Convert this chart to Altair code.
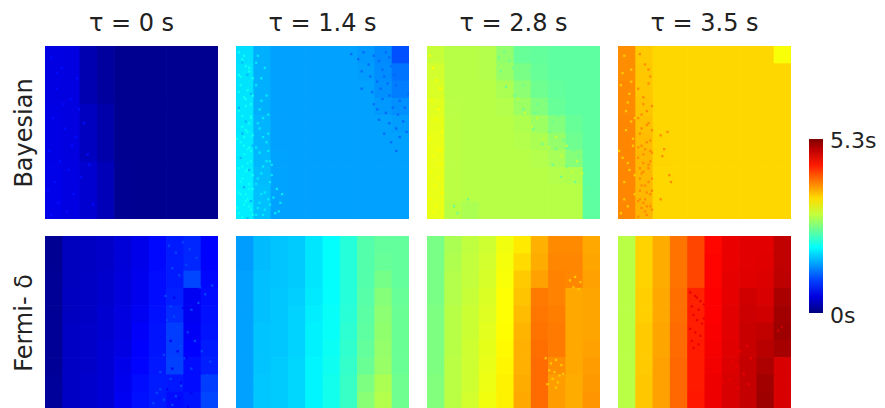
import altair as alt
import pandas as pd

TITLES = ["τ = 0 s", "τ = 1.4 s", "τ = 2.8 s", "τ = 3.5 s"]
ROW_LABELS = ["Bayesian", "Fermi- δ"]
BAR_LABELS = ["5.3s", "0s"]
JET = ["#00007f", "#0000ff", "#007fff", "#00ffff", "#7fff7f", "#ffff00", "#ff7f00", "#ff0000", "#7f0000"]

# Estimated seconds per cell, top row first
BAY_0 = [
    [.52, .50, .26, .16, .09, .09, .09, .09, .09, .09],
    [.53, .50, .34, .22, .09, .09, .09, .09, .09, .09],
    [.55, .52, .42, .30, .10, .09, .09, .09, .09, .09],
]
BAY_14 = [
    [1.82, 1.58, 1.50, 1.50, 1.50, 1.50, 1.50, 1.46, 1.38, 1.08],
    [1.84, 1.58, 1.50, 1.50, 1.50, 1.50, 1.50, 1.48, 1.40, 1.26],
    [1.84, 1.58, 1.50, 1.50, 1.50, 1.50, 1.50, 1.50, 1.42, 1.32],
    [1.86, 1.58, 1.50, 1.50, 1.50, 1.50, 1.50, 1.50, 1.46, 1.42],
    [1.86, 1.60, 1.50, 1.50, 1.50, 1.50, 1.50, 1.50, 1.50, 1.48],
    [1.88, 1.60, 1.50, 1.50, 1.50, 1.50, 1.50, 1.50, 1.50, 1.50],
    [1.88, 1.62, 1.51, 1.50, 1.50, 1.50, 1.50, 1.50, 1.50, 1.50],
    [1.90, 1.64, 1.51, 1.50, 1.50, 1.50, 1.50, 1.50, 1.50, 1.50],
    [1.90, 1.66, 1.51, 1.50, 1.50, 1.50, 1.50, 1.50, 1.50, 1.50],
    [1.90, 1.66, 1.50, 1.50, 1.50, 1.50, 1.50, 1.50, 1.50, 1.50],
]
BAY_28 = [
    [3.02, 2.94, 2.94, 2.92, 2.75, 2.52, 2.50, 2.48, 2.48, 2.48],
    [3.08, 2.94, 2.94, 2.92, 2.78, 2.62, 2.52, 2.48, 2.48, 2.48],
    [3.12, 2.94, 2.94, 2.94, 2.88, 2.72, 2.56, 2.50, 2.48, 2.48],
    [3.15, 2.95, 2.94, 2.94, 2.92, 2.80, 2.66, 2.52, 2.48, 2.48],
    [3.18, 2.96, 2.94, 2.94, 2.94, 2.90, 2.80, 2.66, 2.52, 2.48],
    [3.20, 2.96, 2.94, 2.94, 2.94, 2.92, 2.88, 2.76, 2.56, 2.48],
    [3.20, 2.96, 2.94, 2.94, 2.94, 2.94, 2.92, 2.86, 2.68, 2.48],
    [3.20, 2.96, 2.94, 2.94, 2.94, 2.94, 2.94, 2.92, 2.90, 2.48],
    [3.20, 2.96, 2.94, 2.94, 2.94, 2.94, 2.94, 2.94, 2.94, 2.48],
    [3.20, 2.94, 2.88, 2.94, 2.94, 2.94, 2.94, 2.94, 2.94, 2.48],
]
BAY_35 = [
    [3.90, 3.58, 3.52, 3.52, 3.52, 3.52, 3.52, 3.52, 3.52, 3.28],
    [3.90, 3.60, 3.52, 3.52, 3.52, 3.52, 3.52, 3.52, 3.52, 3.52],
    [3.92, 3.60, 3.52, 3.52, 3.52, 3.52, 3.52, 3.52, 3.52, 3.52],
    [3.92, 3.62, 3.52, 3.52, 3.52, 3.52, 3.52, 3.52, 3.52, 3.52],
    [3.94, 3.64, 3.52, 3.52, 3.52, 3.52, 3.52, 3.52, 3.52, 3.52],
    [3.94, 3.66, 3.53, 3.52, 3.52, 3.52, 3.52, 3.52, 3.52, 3.52],
    [3.94, 3.68, 3.53, 3.52, 3.52, 3.52, 3.52, 3.52, 3.52, 3.52],
    [3.94, 3.68, 3.52, 3.52, 3.52, 3.52, 3.52, 3.52, 3.52, 3.52],
    [3.94, 3.68, 3.52, 3.52, 3.52, 3.52, 3.52, 3.52, 3.52, 3.52],
    [3.94, 3.70, 3.52, 3.52, 3.52, 3.52, 3.52, 3.52, 3.52, 3.52],
]
FER_0 = [
    [.10, .33, .35, .38, .46, .56, .70, .80, .86, .66],
    [.10, .33, .35, .38, .46, .56, .70, .80, .86, .66],
    [.12, .33, .36, .40, .48, .58, .72, .80, 1.02, .70],
    [.12, .34, .36, .40, .48, .58, .72, .82, .60, .72],
    [.12, .34, .36, .42, .50, .60, .74, .88, .60, .74],
    [.12, .36, .38, .42, .50, .64, .76, .98, .62, .76],
    [.12, .36, .38, .44, .52, .66, .76, .98, .66, .80],
    [.12, .36, .38, .44, .56, .68, .78, 1.00, .72, .82],
    [.14, .36, .40, .44, .58, .72, .80, .78, .72, .98],
    [.14, .36, .40, .44, .60, .74, .80, .72, .76, 1.02],
]
FER_14 = [
    [1.48, 1.64, 1.68, 1.72, 1.86, 2.00, 2.18, 2.42, 2.50, 2.50],
    [1.48, 1.64, 1.68, 1.72, 1.86, 2.00, 2.18, 2.42, 2.52, 2.50],
    [1.50, 1.66, 1.68, 1.72, 1.86, 2.00, 2.18, 2.42, 2.60, 2.50],
    [1.50, 1.66, 1.70, 1.74, 1.88, 2.00, 2.18, 2.44, 2.68, 2.52],
    [1.50, 1.66, 1.70, 1.76, 1.90, 2.02, 2.20, 2.46, 2.72, 2.54],
    [1.50, 1.68, 1.70, 1.76, 1.92, 2.02, 2.22, 2.48, 2.74, 2.54],
    [1.50, 1.68, 1.70, 1.76, 1.92, 2.04, 2.24, 2.50, 2.76, 2.54],
    [1.50, 1.68, 1.72, 1.78, 1.94, 2.06, 2.26, 2.54, 2.78, 2.54],
    [1.50, 1.70, 1.72, 1.78, 1.94, 2.08, 2.28, 2.64, 2.88, 2.56],
    [1.50, 1.70, 1.72, 1.78, 1.94, 2.08, 2.28, 2.70, 2.92, 2.56],
]
FER_28 = [
    [2.62, 2.88, 2.98, 3.06, 3.24, 3.42, 3.72, 3.92, 3.92, 3.76],
    [2.62, 2.90, 3.00, 3.08, 3.26, 3.50, 3.74, 3.94, 3.94, 3.78],
    [2.62, 2.92, 3.00, 3.10, 3.28, 3.58, 3.80, 3.96, 3.94, 3.80],
    [2.62, 2.92, 3.02, 3.12, 3.30, 3.62, 4.00, 3.96, 3.76, 3.78],
    [2.64, 2.94, 3.04, 3.14, 3.30, 3.66, 4.02, 3.98, 3.76, 3.78],
    [2.64, 2.94, 3.04, 3.16, 3.32, 3.70, 4.04, 4.00, 3.76, 3.78],
    [2.64, 2.94, 3.06, 3.18, 3.34, 3.72, 4.06, 4.00, 3.76, 3.80],
    [2.64, 2.96, 3.06, 3.20, 3.36, 3.72, 4.08, 3.90, 3.76, 3.82],
    [2.66, 2.96, 3.06, 3.22, 3.38, 3.74, 4.08, 3.82, 3.74, 3.84],
    [2.66, 2.96, 3.08, 3.24, 3.38, 3.76, 4.08, 3.82, 3.74, 3.86],
]
FER_35 = [
    [2.95, 3.54, 3.74, 4.04, 4.28, 4.60, 4.74, 4.78, 4.78, 4.96],
    [2.95, 3.54, 3.74, 4.04, 4.28, 4.62, 4.74, 4.78, 4.80, 4.96],
    [2.95, 3.54, 3.74, 4.04, 4.28, 4.62, 4.76, 4.80, 4.82, 4.98],
    [2.95, 3.56, 3.76, 4.06, 4.46, 4.64, 4.76, 4.88, 4.84, 5.08],
    [2.95, 3.56, 3.76, 4.06, 4.48, 4.64, 4.78, 4.90, 4.88, 5.12],
    [2.95, 3.58, 3.78, 4.08, 4.48, 4.66, 4.78, 4.92, 4.96, 5.14],
    [2.95, 3.58, 3.78, 4.08, 4.50, 4.68, 4.80, 4.92, 5.00, 5.10],
    [2.95, 3.58, 3.80, 4.10, 4.50, 4.70, 4.82, 4.94, 5.06, 4.84],
    [2.95, 3.60, 3.80, 4.10, 4.50, 4.72, 4.84, 4.94, 5.12, 4.84],
    [2.95, 3.60, 3.80, 4.10, 4.52, 4.72, 4.84, 4.94, 5.14, 4.84],
]

# Speckles: value, x positions, y positions (panel %)
B0_DOTS = [(.72, [3, 9, 6, 14, 4, 11, 17, 2, 8, 13, 19, 5, 22, 16, 7, 12, 25, 3, 18, 10, 15, 1, 20, 27, 6, 24],
                 [6, 12, 24, 30, 41, 47, 52, 60, 66, 71, 36, 78, 44, 85, 90, 95, 68, 97, 18, 33, 57, 83, 75, 91, 15, 62])]
B14_DOTS = [
    (2.05, [1, 3, 5, 7, 9, 2, 6, 4, 8, 1, 3, 7, 5, 9, 2, 6, 4, 8, 1, 5, 3, 7, 9, 2, 6, 4, 8, 1, 3, 5, 7, 9, 2, 6, 4, 8, 1, 3, 5, 7,
            4, 7, 2, 9, 5, 1, 8, 3, 6, 0, 4, 8, 2, 6, 9, 3, 7, 1, 5, 0],
           [3, 7, 11, 14, 18, 22, 25, 29, 33, 37, 40, 44, 48, 51, 55, 59, 62, 66, 70, 72, 76, 79, 82, 85, 88, 91, 94, 96, 98, 85, 92, 97, 78, 67, 52, 41, 16, 9, 34, 58,
            5, 12, 17, 28, 30, 26, 40, 46, 49, 53, 57, 60, 64, 71, 74, 69, 82, 84, 89, 93]),
    (1.88, [12, 15, 13, 17, 14, 11, 16, 18, 12, 15, 19, 13, 17, 23, 25, 14, 20, 11, 24, 18, 12, 16, 11, 14, 18, 13, 17, 11, 15, 19, 12, 16, 14, 18, 11, 13, 19, 15, 22, 21, 26, 20],
           [44, 52, 61, 66, 73, 79, 84, 88, 93, 97, 91, 36, 28, 82, 90, 18, 74, 9, 95, 60, 5, 12, 22, 31, 39, 47, 55, 58, 69, 78, 76, 94, 85, 50, 97, 90, 66, 41, 96, 87, 85, 68]),
    (1.60, [3, 6, 8, 1, 5, 9, 2, 7, 4, 8, 6, 3], [9, 16, 27, 35, 43, 57, 64, 71, 81, 89, 99, 50]),
    (1.20, [66, 70, 73, 76, 79, 82, 84, 86, 88, 72, 77, 81, 85, 89, 78, 83, 87, 91, 79, 84, 88, 92, 86, 90, 94, 82, 88, 93, 97, 85, 92, 96, 89, 94, 98, 72, 81, 92, 99],
           [4, 7, 3, 10, 5, 8, 13, 3, 6, 14, 17, 20, 17, 11, 26, 24, 21, 16, 33, 30, 28, 22, 38, 35, 31, 42, 44, 39, 35, 50, 47, 43, 55, 52, 49, 24, 36, 60, 27]),
]
B28_DOTS = [
    (3.30, [1, 3, 5, 7, 2, 6, 4, 8, 1, 5, 3, 7, 2, 6, 4, 8, 1, 5, 3, 7], [5, 12, 19, 24, 31, 36, 42, 49, 53, 59, 63, 68, 72, 76, 80, 84, 88, 92, 95, 60]),
    (2.55, [41, 44, 47, 42, 49, 52, 45, 55, 58, 50, 60, 63, 66, 55, 62, 69, 72, 61, 70, 75, 78, 66, 74, 81, 84, 72, 80, 87, 90, 77, 85, 92, 15, 17, 23],
           [6, 3, 8, 14, 12, 16, 23, 22, 14, 28, 27, 33, 19, 36, 38, 31, 43, 47, 49, 40, 54, 56, 59, 52, 60, 68, 69, 63, 72, 75, 78, 81, 92, 96, 88]),
    (3.02, [52, 56, 60, 63, 67, 70, 74, 77, 80, 83, 86, 89], [30, 38, 46, 41, 53, 58, 52, 63, 57, 72, 66, 73]),
]
B35_DOTS = [
    (3.92, [12, 15, 18, 11, 14, 17, 19, 13, 16, 12, 18, 15, 11, 17, 14, 19, 13, 16, 12, 18, 15, 11, 17, 14, 19, 13, 16, 12, 18, 24, 28, 26, 25, 29, 30, 24,
            11, 13, 16, 19, 14, 17, 12, 15, 18, 11, 14, 19, 16, 13, 12, 17, 15, 18, 11, 14, 19, 13, 16, 17],
           [4, 10, 17, 24, 29, 13, 34, 39, 45, 50, 54, 59, 64, 68, 72, 76, 80, 84, 88, 92, 95, 98, 44, 33, 61, 73, 92, 83, 66, 51, 49, 59, 63, 74, 78, 88,
            41, 47, 55, 48, 62, 70, 76, 80, 85, 89, 90, 94, 97, 93, 70, 78, 88, 60, 58, 67, 83, 57, 37, 21]),
    (3.58, [3, 7, 1, 5, 9, 4, 8, 2, 6, 3, 9, 5, 1, 7, 2, 6, 4, 8, 0, 5, 9, 3, 7], [5, 13, 22, 32, 41, 48, 57, 64, 71, 78, 85, 92, 96, 43, 15, 27, 37, 53, 60, 67, 74, 88, 20]),
]
F0_DOTS = [
    (1.02, [71, 75, 79, 83, 87, 73, 77, 81, 85, 89, 69, 72, 74, 76, 70, 78, 68, 71, 80, 66, 72, 78, 64, 68, 73, 84, 88, 92, 96, 82, 86, 90, 95, 93, 97, 75, 62, 66, 84, 70],
           [5, 9, 3, 7, 12, 18, 22, 16, 26, 29, 34, 40, 46, 52, 58, 63, 68, 73, 70, 78, 82, 86, 90, 94, 97, 42, 38, 33, 28, 55, 60, 66, 72, 80, 86, 92, 96, 88, 76, 48]),
    (.62, [74, 79, 83, 72, 76, 81, 86, 78, 73, 88, 84, 77, 82, 70], [35, 41, 55, 60, 66, 70, 48, 84, 76, 63, 90, 93, 98, 88]),
]
F28_DOTS = [(3.60, [68, 71, 74, 77, 70, 73, 76, 72, 75, 69, 78, 74, 82, 85, 88, 84, 87], [70, 73, 71, 74, 77, 78, 80, 82, 84, 85, 79, 87, 25, 23, 26, 29, 30])]
F35_DOTS = [(4.74, [41, 44, 47, 42, 46, 49, 43, 45, 48, 41, 44, 47, 42, 46, 49, 43, 45, 60, 65, 70, 74, 68, 72, 76, 64, 53, 57, 60, 69, 75],
                   [32, 34, 37, 40, 42, 39, 45, 48, 50, 53, 55, 57, 60, 62, 47, 64, 35, 68, 72, 66, 63, 75, 79, 70, 82, 76, 80, 84, 87, 85]),
            (4.90, [92, 94], [54, 52])]

CELLS = [[BAY_0, BAY_14, BAY_28, BAY_35], [FER_0, FER_14, FER_28, FER_35]]
DOTS = [[B0_DOTS, B14_DOTS, B28_DOTS, B35_DOTS], [F0_DOTS, [], F28_DOTS, F35_DOTS]]
DOT_SIZE = 1.3


def table(cells, dots):
    rows = []
    h = 100 / len(cells)
    for r, row in enumerate(cells):
        w = 100 / len(row)
        for c, v in enumerate(row):
            rows.append(dict(x=c * w, x2=(c + 1) * w + .4, y=r * h, y2=(r + 1) * h + .4, v=v))
    for v, xs, ys in dots:
        for x, y in zip(xs, ys):
            rows.append(dict(x=x, x2=x + DOT_SIZE, y=y, y2=y + DOT_SIZE, v=v))
    return pd.DataFrame(rows)


FONT = "DejaVu Sans"
INK = "#222222"
legend = alt.Legend(
    orient="none", legendX=764, legendY=93, title=None, gradientLength=174, gradientThickness=14,
    values=[0, 5.3], labelExpr="''", labelFontSize=1, labelOffset=0, gradientStrokeWidth=0,
)
color = alt.Color("v:Q", scale=alt.Scale(domain=[0, 5.3], range=JET, interpolate="rgb"), legend=legend)


def panel(r, c):
    y_axis = None
    if c == 0:
        y_axis = alt.Axis(title=ROW_LABELS[r], domain=False, ticks=False, labels=False, grid=False,
                          titleFont=FONT, titleFontSize=24, titleFontWeight="normal", titleColor=INK, titlePadding=9)
    ch = alt.Chart(table(CELLS[r][c], DOTS[r][c])).mark_rect(clip=True).encode(
        x=alt.X("x:Q", scale=alt.Scale(domain=[0, 100], nice=False, zero=False), axis=None),
        x2="x2:Q",
        y=alt.Y("y:Q", scale=alt.Scale(domain=[100, 0], nice=False, zero=False), axis=y_axis),
        y2="y2:Q",
        color=color,
    ).properties(width=173, height=173)
    if c == 3:
        label = alt.Chart(pd.DataFrame({"t": [BAR_LABELS[r]]})).mark_text(
            align="left", baseline="middle", font=FONT, fontSize=22, color=INK
        ).encode(text="t:N", x=alt.value(212), y=alt.value([95, 80][r]))
        ch = alt.layer(ch, label)
    if r == 0:
        ch = ch.properties(title=alt.TitleParams(TITLES[c], font=FONT, fontSize=24, fontWeight="normal", color=INK, offset=10))
    return ch


rows = [alt.hconcat(*[panel(r, c) for c in range(4)], spacing=18) for r in range(2)]
chart = alt.vconcat(*rows, spacing=17).configure_view(stroke=None).properties(
    padding={"left": 4, "top": 4, "right": 0, "bottom": 0}, background="white")
chart.save("out.html", embed_options={"renderer": "svg", "actions": False})
